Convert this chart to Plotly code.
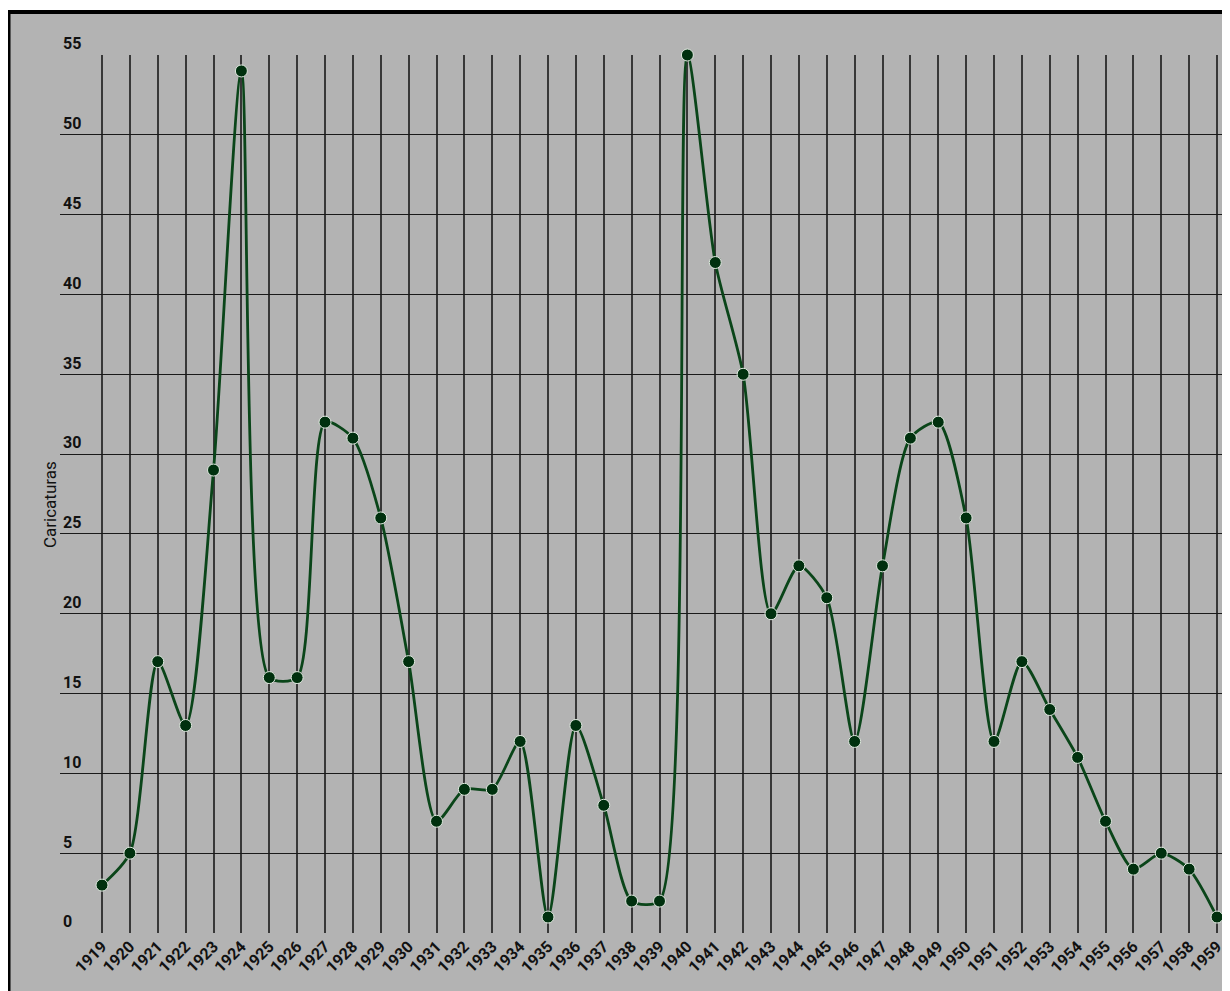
import plotly.graph_objs as go

# years on the x axis and number of caricatures per year
years = list(range(1919, 1960))
caricaturas = [3, 5, 17, 13, 29, 54, 16, 16, 32, 31, 26, 17, 7, 9, 9, 12, 1, 13, 8, 2, 2,
               55, 42, 35, 20, 23, 21, 12, 23, 31, 32, 26, 12, 17, 14, 11, 7, 4, 5, 4, 1]
y_ticks = list(range(0, 60, 5))

# the page body has an 8px margin, so the figure is a bit smaller than the window
W, H = 1222, 983
ML, MR, MT, MB = 52, 0, 47, 58
plot_w = W - ML - MR
plot_h = H - MT - MB

# paper coords for pixel positions outside the plot area (used for the frame)
def px_x(p):
    return (p - ML) / plot_w

def px_y(p):
    return 1 + (MT - p) / plot_h

trace = go.Scatter(
    x=years,
    y=caricaturas,
    mode='lines+markers',
    line=dict(color='#0a4519', width=2.8, shape='spline', smoothing=0.7),
    marker=dict(color='#00300e', size=12, line=dict(color='#dfe9df', width=1)),
    cliponaxis=False,
    hoverinfo='x+y',
)

fig = go.Figure(data=[trace])

fig.update_layout(
    width=W,
    height=H,
    margin=dict(l=ML, r=MR, t=MT, b=MB, pad=0),
    paper_bgcolor='#b3b3b3',
    plot_bgcolor='#b3b3b3',
    showlegend=False,
    font=dict(family='Roboto, Arial, sans-serif', color='#111'),
    xaxis=dict(
        range=[1917.493, 1959.466],
        tickvals=years,
        ticktext=[str(y) for y in years],
        tickangle=-45,
        tickfont=dict(size=16, family='Roboto', weight='bold', color='#111'),
        showgrid=True,
        gridcolor='#383838',
        gridwidth=1.6,
        zeroline=False,
        showline=False,
        ticks='',
        fixedrange=True,
    ),
    yaxis=dict(
        range=[0, 55],
        tickvals=y_ticks,
        ticklabelposition='inside top',
        ticklabeloverflow='allow',
        tickfont=dict(size=16, family='Roboto', weight='bold', color='#111'),
        showgrid=True,
        gridcolor='#1a1a1a',
        gridwidth=1.2,
        zeroline=False,
        showline=False,
        ticks='',
        fixedrange=True,
    ),
    annotations=[
        dict(
            text='Caricaturas',
            xref='paper', yref='paper',
            x=px_x(30), y=px_y(497),
            showarrow=False,
            textangle=-90,
            font=dict(size=17, family='Roboto', color='#111'),
        )
    ],
    shapes=[
        # white strip on top, then the black frame on top and left
        dict(type='rect', xref='paper', yref='paper', x0=px_x(-5), x1=px_x(W + 5),
             y0=px_y(2), y1=px_y(-5), fillcolor='white', line=dict(width=0)),
        dict(type='line', xref='paper', yref='paper', x0=px_x(0), x1=px_x(W + 5),
             y0=px_y(4), y1=px_y(4), line=dict(color='black', width=4)),
        dict(type='line', xref='paper', yref='paper', x0=px_x(1), x1=px_x(1),
             y0=px_y(2), y1=px_y(H + 5), line=dict(color='black', width=3)),
    ],
)

fig.write_html("out.html")
